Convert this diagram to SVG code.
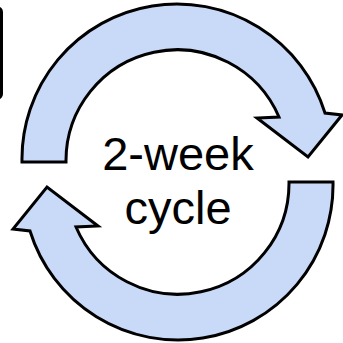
<svg xmlns="http://www.w3.org/2000/svg" width="343" height="343" viewBox="0 0 343 343">
  <style>
    .arrow { fill: #c9daf8; stroke: #000000; stroke-width: 3; stroke-linejoin: miter; }
    .box { fill: #ffffff; stroke: #000000; stroke-width: 3; }
    .label { font-family: "Liberation Sans", Arial, sans-serif; font-size: 47px; fill: #000000; text-anchor: middle; }
  </style>
  <defs>
    <path id="cycleArrow" d="M 22,162 A 155 155 0 0 1 325,113 L 342,115 L 308,157 L 257,118 L 279,117 A 111 111 0 0 0 66,162 Z"/>
  </defs>
  <g id="box-partial">
    <rect class="box" x="-30" y="8" width="31.5" height="90" rx="4"/>
  </g>
  <g id="arrow-top">
    <use href="#cycleArrow" class="arrow"/>
  </g>
  <g id="arrow-bottom">
    <use href="#cycleArrow" class="arrow" transform="rotate(180 177.5 172)"/>
  </g>
  <g id="label">
    <text class="label" x="178" y="170">2-week</text>
    <text class="label" x="178" y="224">cycle</text>
  </g>
</svg>
